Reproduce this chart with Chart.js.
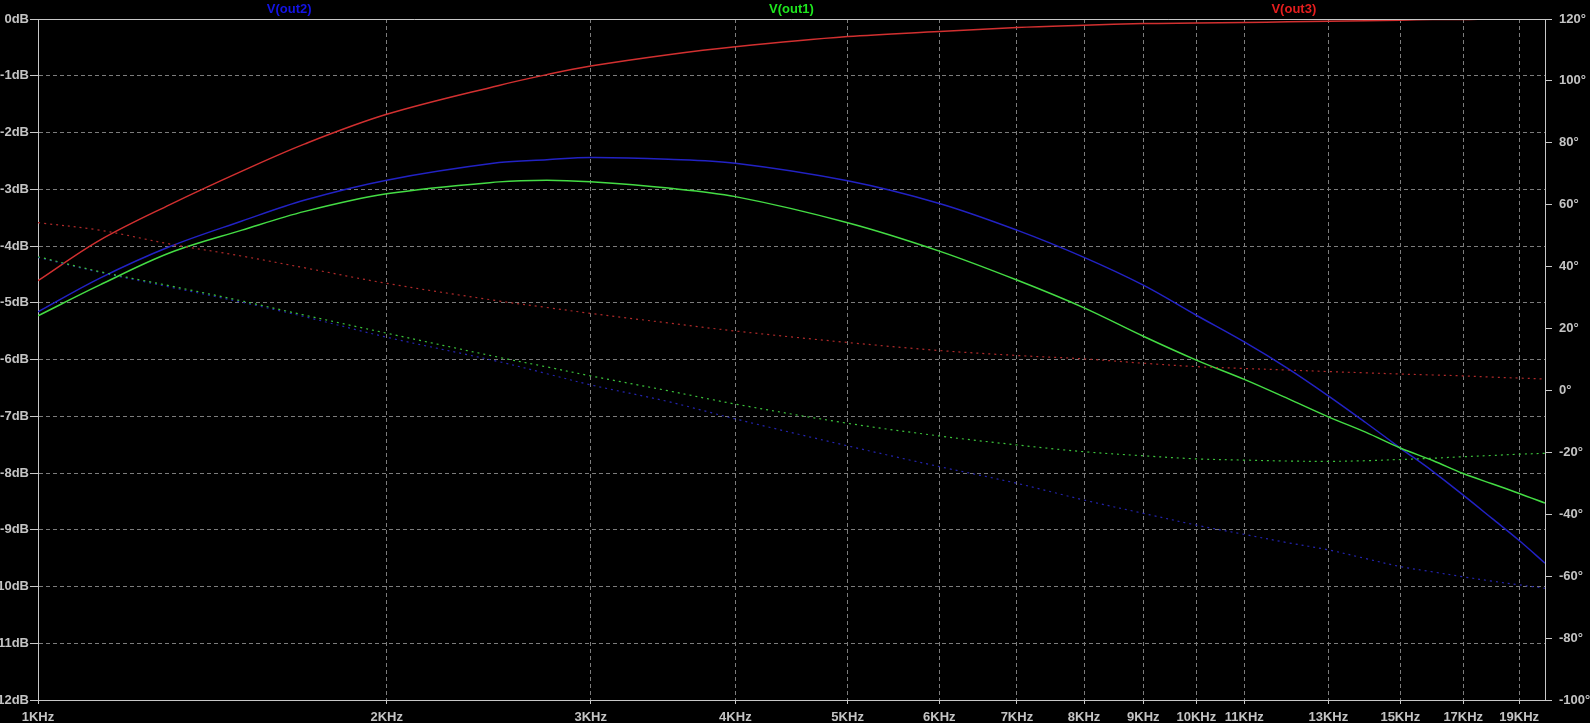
<!DOCTYPE html>
<html><head><meta charset="utf-8">
<script src="https://cdn.jsdelivr.net/npm/chart.js@4.4.1/dist/chart.umd.min.js"></script>
<style>html,body{margin:0;padding:0;background:#000;overflow:hidden}#wrap{width:1590px;height:723px;background:#000}</style>
</head><body><div id="wrap"><canvas id="c" width="1590" height="723"></canvas></div>
<script>
// Frequencies (Hz)
const freqs = [1000,1130,1300,1500,1700,2000,2500,2750,3000,3500,4000,5000,6000,7000,8000,9000,10000,11000,12000,13000,14000,15000,16000,17000,18000,19000,20000];
// Magnitudes (dB)
const out2Mag = [-5.16,-4.57,-4.01,-3.56,-3.19,-2.84,-2.53,-2.48,-2.44,-2.47,-2.54,-2.85,-3.25,-3.72,-4.20,-4.69,-5.22,-5.69,-6.16,-6.64,-7.11,-7.56,-7.97,-8.39,-8.80,-9.19,-9.59];
const out1Mag = [-5.23,-4.69,-4.12,-3.72,-3.39,-3.08,-2.87,-2.84,-2.87,-2.98,-3.13,-3.59,-4.09,-4.60,-5.09,-5.59,-6.01,-6.35,-6.69,-7.01,-7.28,-7.56,-7.78,-8.01,-8.19,-8.36,-8.53];
const out3Mag = [-4.61,-3.90,-3.27,-2.68,-2.20,-1.68,-1.17,-0.98,-0.83,-0.63,-0.49,-0.31,-0.22,-0.15,-0.11,-0.08,-0.07,-0.06,-0.05,-0.04,-0.03,-0.02,-0.01,-0.01,0,0,0];
// Phases (degrees)
const out2Phase = [43.0,38.2,33.4,28.5,23.8,17.2,9.3,5.4,1.8,-3.6,-9.2,-17.9,-24.6,-30.0,-35.4,-39.7,-43.5,-46.5,-49.2,-51.5,-54.3,-56.9,-58.6,-60.2,-61.6,-62.8,-63.9];
const out1Phase = [43.2,38.4,33.8,28.9,24.3,18.5,10.7,7.6,4.7,-0.1,-4.4,-10.6,-14.7,-17.6,-19.8,-21.1,-22.1,-22.5,-22.8,-22.9,-22.7,-22.3,-21.9,-21.4,-21.0,-20.6,-20.3];
const out3Phase = [54.2,51.8,47.3,43.4,39.6,34.6,28.9,26.8,24.9,21.8,19.2,15.5,12.9,11.3,10.2,8.8,7.7,7.1,6.6,6.1,5.7,5.3,5.0,4.7,4.3,4.0,3.7];
// Tick labels
const xTicks = [1000,2000,3000,4000,5000,6000,7000,8000,9000,10000,11000,13000,15000,17000,19000];
const dbTicks = [0,-1,-2,-3,-4,-5,-6,-7,-8,-9,-10,-11,-12];
const phaseTicks = [120,100,80,60,40,20,0,-20,-40,-60,-80,-100];
const traceNames = ['V(out2)','V(out1)','V(out3)'];
const traceTextColors = ['#1414e6','#1ee61e','#e61e1e'];

const FONT = {family:'"Liberation Sans", Arial, sans-serif', size:13, weight:'bold'};
const AXIS = '#c8c8c8', GRID = '#7c7c7c', TXT = '#c4c4c4';

const pts = (ys) => freqs.map((f,i)=>({x:f, y:ys[i]}));

const topPlugin = {
  id:'topPlugin',
  afterDraw(chart){
    const {ctx, chartArea:{left,right,top}} = chart;
    ctx.save();
    ctx.strokeStyle = AXIS; ctx.lineWidth = 1;
    ctx.beginPath(); ctx.moveTo(left, Math.round(top)+0.5); ctx.lineTo(right, Math.round(top)+0.5); ctx.stroke();
    ctx.font = 'bold 13px "Liberation Sans", Arial, sans-serif';
    ctx.textAlign = 'center'; ctx.textBaseline = 'middle';
    traceNames.forEach((n,i)=>{
      ctx.fillStyle = traceTextColors[i];
      ctx.fillText(n, left + (right-left)*(2*i+1)/6, 9);
    });
    ctx.restore();
  }
};

const solid = (label, ys, color) => ({label, data:pts(ys), yAxisID:'y', borderColor:color, borderWidth:1.5, pointRadius:0, tension:0.35, fill:false});
const dotted = (label, ys, color) => ({label, data:pts(ys), yAxisID:'y1', borderColor:color, borderWidth:1.2, borderDash:[2,4], pointRadius:0, tension:0.35, fill:false});

new Chart(document.getElementById('c'), {
  type:'line',
  data:{datasets:[
    dotted('V(out3) phase', out3Phase, '#b02a2a'),
    dotted('V(out1) phase', out1Phase, '#3cc43c'),
    dotted('V(out2) phase', out2Phase, '#2424b0'),
    solid('V(out3)', out3Mag, '#d23030'),
    solid('V(out1)', out1Mag, '#44dc44'),
    solid('V(out2)', out2Mag, '#2222c4')
  ]},
  options:{
    responsive:false, animation:false, devicePixelRatio:1,
    layout:{padding:{top:19,left:0,right:0,bottom:0}},
    plugins:{legend:{display:false}, tooltip:{enabled:false}},
    scales:{
      x:{type:'logarithmic', min:1000, max:20000,
        afterBuildTicks:(s)=>{s.ticks = xTicks.map(v=>({value:v}));},
        afterFit:(s)=>{s.height = 23;},
        grid:{color:GRID, lineWidth:1, tickColor:AXIS, tickLength:4, drawTicks:true},
        border:{color:AXIS, width:1, dash:[4,3]},
        ticks:{color:TXT, font:FONT, autoSkip:false, maxRotation:0, padding:6, callback:(v)=>(v/1000)+'KHz'}
      },
      y:{type:'linear', position:'left', min:-12, max:0,
        afterBuildTicks:(s)=>{s.ticks = dbTicks.map(v=>({value:v}));},
        afterFit:(s)=>{s.width = 38;},
        grid:{color:GRID, lineWidth:1, tickColor:AXIS, tickLength:8},
        border:{color:AXIS, width:1, dash:[4,3]},
        ticks:{color:TXT, font:FONT, padding:1, callback:(v)=>v+'dB'}
      },
      y1:{type:'linear', position:'right', min:-100, max:120,
        afterBuildTicks:(s)=>{s.ticks = phaseTicks.map(v=>({value:v}));},
        afterFit:(s)=>{s.width = 45;},
        grid:{drawOnChartArea:false, tickColor:AXIS, tickLength:7},
        border:{color:AXIS, width:1},
        ticks:{color:TXT, font:FONT, padding:7, callback:(v)=>v+'°'}
      }
    }
  },
  plugins:[topPlugin]
});
</script></body></html>
